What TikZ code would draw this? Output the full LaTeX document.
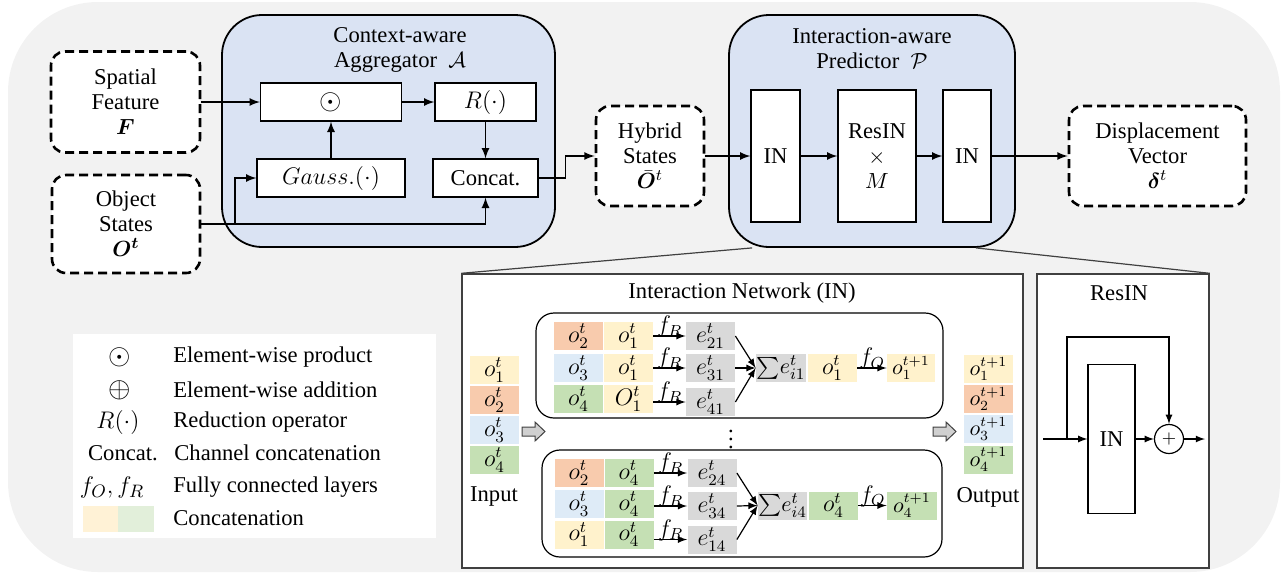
\documentclass[tikz,border=0pt]{standalone}
\usepackage{amsmath}
\usepackage{bm}
\usepackage{fontspec}
\setmainfont{Liberation Serif}

\definecolor{bggray}{HTML}{F2F2F2}
\definecolor{aggblue}{HTML}{DAE3F3}
\definecolor{corange}{HTML}{F8CBAD}
\definecolor{cyellow}{HTML}{FFF2CC}
\definecolor{cblue}{HTML}{DEEBF7}
\definecolor{cgreen}{HTML}{C5E0B4}
\definecolor{cgray}{HTML}{D9D9D9}
\definecolor{lyellow}{HTML}{FFF2D6}
\definecolor{lgreen}{HTML}{E2EFDA}
\definecolor{darkline}{HTML}{404040}
\definecolor{fatgray}{HTML}{D0D0D0}

\begin{document}
\begin{tikzpicture}[x=0.5pt, y=-0.5pt, >=latex,
  font=\fontsize{11.3}{12.5}\selectfont,
  dbox/.style={draw, fill=white, line width=1.3pt, dash pattern=on 4.5pt off 2.5pt, rounded corners=7pt, align=center, inner sep=0pt},
  bluebox/.style={draw, fill=aggblue, line width=0.9pt, rounded corners=20pt, inner sep=0pt},
  opbox/.style={draw, fill=white, line width=0.6pt, inner sep=0pt, minimum height=19pt},
  arr/.style={->, line width=0.8pt},
  sarr/.style={->, line width=0.6pt},
  panel/.style={draw=darkline, fill=white, line width=0.7pt, inner sep=0pt},
  grp/.style={draw, line width=0.6pt, rounded corners=9pt, inner sep=0pt},
  cell/.style={inner sep=0pt, minimum width=24.5pt, minimum height=14pt, font=\fontsize{12}{13}\selectfont},
  cellp/.style={cell, font=\fontsize{10.5}{11}\selectfont},
  fat/.style={draw=darkline, fill=fatgray, line width=0.5pt},
  lbl/.style={above, inner sep=0pt, yshift=-1pt, font=\fontsize{12}{13}\selectfont},
  sym/.style={font=\fontsize{12.5}{13}\selectfont},
  legtxt/.style={anchor=west, inner sep=0pt}]

\useasboundingbox (0,0) rectangle (1283,574);
\fill[bggray, rounded corners=45pt] (8,2) rectangle (1280,572);

% aggregator
\node[dbox, minimum width=74.5pt, minimum height=50.5pt] (sf) at (125.5,102) {Spatial\\Feature\\$\bm{F}$};
\node[dbox, minimum width=74pt, minimum height=49pt] (os) at (126,224) {Object\\States\\$\bm{O^t}$};

\node[bluebox, minimum width=166.5pt, minimum height=116pt] (agg) at (388.5,131) {};
\node[align=center] (aggt) at (400,49.5) {Context-aware\\Aggregator \ $\mathcal{A}$};

\node[opbox, minimum width=70.5pt, font=\fontsize{13.5}{14}\selectfont] (prod) at (331,102) {$\odot$};
\node[opbox, minimum width=50.5pt, sym] (red) at (485.5,102) {$R(\cdot)$};
\node[opbox, minimum width=74pt, sym] (gauss) at (331,178) {$Gauss.(\cdot)$};
\node[opbox, minimum width=52.5pt] (cat) at (485.5,178) {Concat.};

\node[dbox, minimum width=54pt, minimum height=50pt] (hs) at (650,156) {Hybrid\\States\\$\bar{\bm{O}}^t$};

\coordinate (br) at (235,224);
\draw[arr] (sf) -- (prod);
\draw[arr] (prod) -- (red);
\draw[arr] (gauss) -- (prod);
\draw[arr] (red) -- (cat);
\draw[arr] (os.east) -- (br) |- (gauss.west);
\draw[arr] (os.east) -| (cat.south);
\draw[arr] (cat.east) -- ++(27,0) |- (hs.west);

% predictor
\node[bluebox, minimum width=143pt, minimum height=116pt] (pred) at (872,131) {};
\node[align=center] (predt) at (872,48.5) {Interaction-aware\\Predictor \ $\mathcal{P}$};
\node[opbox, minimum width=24.5pt, minimum height=66pt] (ina) at (775.5,156) {IN};
\node[opbox, minimum width=39pt, minimum height=66pt, align=center] (resin) at (877,156) {ResIN\\$\times$\\$M$};
\node[opbox, minimum width=24pt, minimum height=66pt] (inb) at (967,156) {IN};
\node[dbox, minimum width=88.5pt, minimum height=50pt] (dv) at (1157.5,156) {Displacement\\Vector\\$\bm{\delta}^t$};

\draw[arr] (hs) -- (ina);
\draw[arr] (ina) -- (resin);
\draw[arr] (resin) -- (inb);
\draw[arr] (inb) -- (dv);

% zoomed panels
\node[panel, minimum width=280.5pt, minimum height=147pt] (inp) at (742.5,421) {};
\node[panel, minimum width=86pt, minimum height=147pt] (rp) at (1123,421) {};
\draw[darkline, line width=0.6pt] (inp.north west) -- ([xshift=12pt]pred.south west);
\draw[darkline, line width=0.6pt] (rp.north east) -- ([xshift=-20pt]pred.south east);

\node (inpt) at (742,293) {Interaction Network (IN)};
\node (rpt) at (1119,293) {ResIN};

\node[grp, minimum width=203.5pt, minimum height=52.5pt] (ga) at (739.5,365.5) {};
\node[grp, minimum width=200pt, minimum height=53.5pt] (gb) at (742,503.5) {};

% input
\node[cell, fill=cyellow] (i1) at (494.5,370) {$o_1^t$};
\node[cell, fill=corange] (i2) at (494.5,400) {$o_2^t$};
\node[cell, fill=cblue] (i3) at (494.5,430) {$o_3^t$};
\node[cell, fill=cgreen] (i4) at (494.5,460) {$o_4^t$};
\node (inlab) at (494,496) {Input};

\foreach \x in {522,933}
  \draw[fat] (\x,427) -- ++(13,0) -- ++(0,-5) -- ++(10,9.5) -- ++(-10,9.5) -- ++(0,-5) -- ++(-13,0) -- cycle;

% first object
\node[cell, fill=corange] (a11) at (578.5,336) {$o_2^t$};
\node[cell, fill=cyellow] (a12) at (628.5,336) {$o_1^t$};
\node[cell, fill=cblue] (a21) at (578.5,368) {$o_3^t$};
\node[cell, fill=cyellow] (a22) at (628.5,368) {$o_1^t$};
\node[cell, fill=cgreen] (a31) at (578.5,399) {$o_4^t$};
\node[cell, fill=cyellow] (a32) at (628.5,399) {$O_1^t$};
\node[cell, fill=cgray] (ea1) at (710.5,336) {$e^t_{21}$};
\node[cell, fill=cgray] (ea2) at (710.5,368) {$e^t_{31}$};
\node[cell, fill=cgray] (ea3) at (710.5,402) {$e^t_{41}$};
\node[cell, fill=cgray, minimum width=25pt, font=\fontsize{11}{12}\selectfont] (suma) at (781,368) {$\sum\! e^t_{i1}$};
\node[cell, fill=cyellow] (oa) at (832.5,368) {$o_1^t$};
\node[cellp, fill=cyellow, minimum width=24pt] (outa) at (911,368) {$o_1^{t+1}$};

\draw[sarr] (ea1.west -| a12.east) -- node[lbl] {$f_R$} (ea1.west);
\draw[sarr] (ea2.west -| a22.east) -- node[lbl] {$f_R$} (ea2.west);
\draw[sarr] (ea3.west -| a32.east) -- node[lbl] {$f_R$} (ea3.west);
\draw[sarr] (ea1.east) -- (suma.west);
\draw[sarr] (ea2.east) -- (suma.west);
\draw[sarr] (ea3.east) -- (suma.west);
\draw[sarr] (oa) -- node[lbl] {$f_O$} (outa);

% last object
\node[cell, fill=corange] (b11) at (579,473) {$o_2^t$};
\node[cell, fill=cgreen] (b12) at (629,473) {$o_4^t$};
\node[cell, fill=cblue] (b21) at (579,504) {$o_3^t$};
\node[cell, fill=cgreen] (b22) at (629,504) {$o_4^t$};
\node[cell, fill=cyellow] (b31) at (579,534.5) {$o_1^t$};
\node[cell, fill=cgreen] (b32) at (629,534.5) {$o_4^t$};
\node[cell, fill=cgray] (eb1) at (712,473) {$e^t_{24}$};
\node[cell, fill=cgray] (eb2) at (712,506) {$e^t_{34}$};
\node[cell, fill=cgray] (eb3) at (712,539.5) {$e^t_{14}$};
\node[cell, fill=cgray, font=\fontsize{11}{12}\selectfont] (sumb) at (782.5,505.5) {$\sum\! e^t_{i4}$};
\node[cell, fill=cgreen] (ob) at (833.5,505.5) {$o_4^t$};
\node[cellp, fill=cgreen, minimum width=25pt] (outb) at (912,505.5) {$o_4^{t+1}$};

\draw[sarr] (eb1.west -| b12.east) -- node[lbl] {$f_R$} (eb1.west);
\draw[sarr] (eb2.west -| b22.east) -- node[lbl] {$f_R$} (eb2.west);
\draw[sarr] (eb3.west -| b32.east) -- node[lbl] {$f_R$} (eb3.west);
\draw[sarr] (eb1.east) -- (sumb.west);
\draw[sarr] (eb2.east) -- (sumb.west);
\draw[sarr] (eb3.east) -- (sumb.west);
\draw[sarr] (ob) -- node[lbl] {$f_O$} (outb);

\node (dots) at (731,433) {$\vdots$};

% output
\node[cellp, fill=cyellow] (u1) at (988.5,369) {$o_1^{t+1}$};
\node[cellp, fill=corange] (u2) at (988.5,399) {$o_2^{t+1}$};
\node[cellp, fill=cblue] (u3) at (988.5,429) {$o_3^{t+1}$};
\node[cellp, fill=cgreen] (u4) at (988.5,459.5) {$o_4^{t+1}$};
\node (outlab) at (988,497) {Output};

% resin
\node[opbox, minimum width=23.5pt, minimum height=74.5pt] (rin) at (1111.5,439) {IN};
\node[circle, draw, fill=white, line width=0.6pt, minimum size=14.5pt, inner sep=0pt] (add) at (1169,439) {\small$+$};
\coordinate (rinp) at (1043,439);
\coordinate (skip) at (1067,439);
\coordinate (rout) at (1205,439);
\draw[sarr] (rinp) -- (rin.west);
\draw[sarr] (skip) -- ++(0,-102) -| (add.north);
\draw[sarr] (rin) -- (add);
\draw[sarr] (add) -- (rout);

% legend
\node[fill=white, minimum width=181.5pt, minimum height=102pt, inner sep=0pt] (leg) at (254.5,436) {};
\node[font=\fontsize{13.5}{14}\selectfont] (l1s) at (120,357) {$\odot$};
\node[legtxt] (l1t) at (173,357) {Element-wise product};
\node[font=\fontsize{13.5}{14}\selectfont] (l2s) at (120,390) {$\oplus$};
\node[legtxt] (l2t) at (173,390) {Element-wise addition};
\node[sym] (l3s) at (118,422) {$R(\cdot)$};
\node[legtxt] (l3t) at (173,422) {Reduction operator};
\node (l4s) at (123,453) {Concat.};
\node[legtxt] (l4t) at (174,453) {Channel concatenation};
\node[sym] (l5s) at (112,487) {$f_O, f_R$};
\node[legtxt] (l5t) at (173,487) {Fully connected layers};
\node[fill=lyellow, minimum width=17.5pt, minimum height=13pt, inner sep=0pt] (swy) at (100.5,519) {};
\node[fill=lgreen, minimum width=18pt, minimum height=13pt, inner sep=0pt] (swg) at (136,519) {};
\node[legtxt] (l6t) at (173,518) {Concatenation};

\end{tikzpicture}
\end{document}
